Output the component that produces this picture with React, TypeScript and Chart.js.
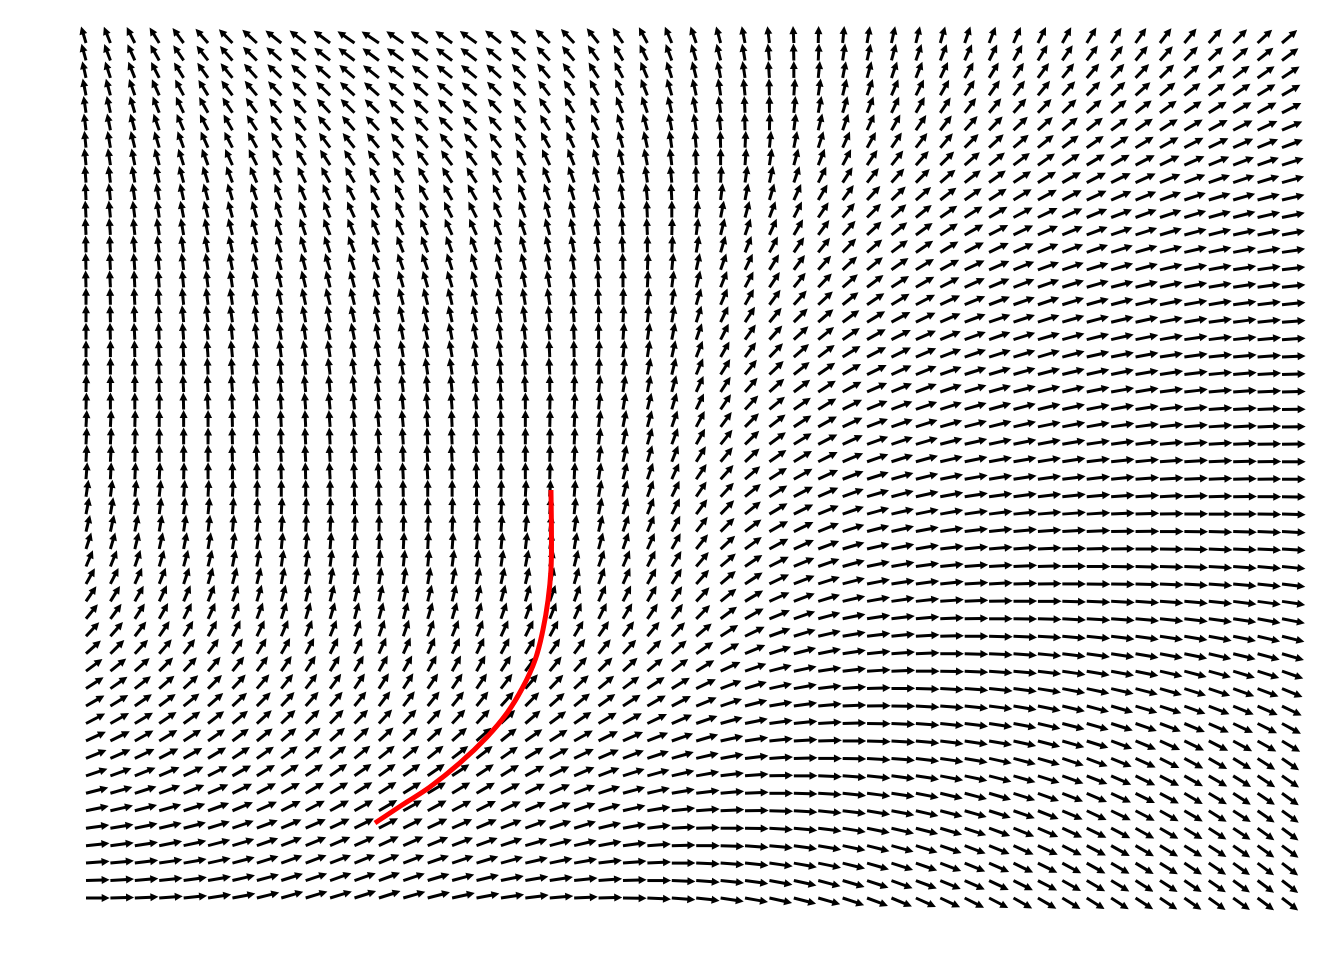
import React, { useEffect, useRef } from "react";
import { Chart, registerables } from "chart.js";

Chart.register(...registerables);

// Arrow direction (degrees, measured in data space, 0 = right, 90 = up) for every grid arrow.
// rowNN holds grid row NN counted from the bottom; each row lists columns 0..49 from left to right.
const row00 = [0,2,4,6,8,12,15,19,22,23,23,24,24,22,20,17,15,12,10,7,4,2,-1,-4,-6,-9,-12,-14,-17,-20,-22,-25,-28,-30,-32,-33,-35,-36,-38,-39,-40,-41,-42,-42,-43,-44,-45,-45,-46,-47];
const row01 = [3,5,7,9,11,14,18,21,24,25,26,26,27,25,23,21,19,16,14,12,9,6,3,0,-3,-6,-8,-11,-14,-17,-20,-22,-25,-27,-28,-30,-32,-34,-35,-36,-38,-39,-40,-41,-42,-43,-44,-45,-46,-47];
const row02 = [6,8,10,12,14,17,20,24,27,28,28,29,30,28,26,25,23,21,18,16,14,10,7,4,0,-3,-6,-8,-11,-14,-16,-19,-22,-24,-26,-28,-30,-32,-34,-35,-37,-38,-39,-40,-41,-42,-43,-45,-46,-47];
const row03 = [8,10,12,15,17,20,23,26,29,30,31,32,33,32,30,28,27,25,22,20,18,14,10,6,2,0,-3,-6,-8,-11,-14,-16,-19,-21,-24,-26,-28,-30,-32,-33,-35,-36,-38,-39,-40,-41,-42,-44,-45,-46];
const row04 = [11,13,16,18,20,23,26,28,31,32,34,35,36,35,34,32,31,29,27,25,23,18,14,10,5,2,0,-2,-5,-8,-10,-13,-16,-18,-20,-23,-25,-27,-29,-31,-33,-34,-36,-38,-39,-40,-42,-43,-45,-46];
const row05 = [16,18,20,22,24,27,30,32,35,36,37,38,39,38,37,36,35,33,30,28,26,22,18,13,9,6,4,1,-2,-5,-8,-10,-13,-15,-18,-20,-22,-24,-26,-29,-31,-33,-34,-36,-38,-39,-41,-42,-44,-45];
const row06 = [20,22,24,27,29,31,34,36,38,39,40,41,42,41,40,40,39,36,34,31,28,24,21,18,14,10,7,4,0,-2,-5,-8,-10,-12,-15,-18,-20,-22,-24,-27,-29,-31,-33,-35,-37,-39,-40,-42,-43,-45];
const row07 = [25,27,29,31,33,35,38,40,42,43,44,44,45,44,44,43,43,40,37,34,31,28,24,21,18,14,10,6,2,0,-3,-6,-8,-10,-12,-15,-17,-20,-22,-24,-27,-29,-32,-34,-36,-38,-39,-41,-42,-44];
const row08 = [30,32,34,36,38,40,42,44,46,47,47,48,48,48,48,47,47,44,40,37,34,31,28,25,22,18,14,9,5,2,0,-2,-5,-7,-10,-12,-14,-17,-20,-22,-25,-28,-30,-32,-35,-37,-39,-40,-42,-44];
const row09 = [33,35,38,40,42,44,46,48,50,51,51,52,52,52,52,51,51,48,44,41,38,35,32,29,26,22,17,12,8,5,2,0,-3,-5,-8,-10,-12,-14,-17,-20,-22,-24,-27,-30,-32,-34,-35,-37,-38,-40];
const row10 = [36,38,40,43,45,47,49,51,53,54,55,55,56,56,56,56,56,53,50,46,43,40,37,34,31,26,21,16,11,8,5,2,-1,-3,-6,-8,-10,-12,-15,-18,-20,-22,-24,-26,-28,-30,-32,-33,-35,-37];
const row11 = [39,41,44,46,48,50,52,54,56,57,58,60,61,61,60,60,60,57,54,51,48,45,42,39,36,30,25,20,14,11,8,4,1,-1,-4,-6,-8,-10,-13,-16,-18,-20,-22,-23,-25,-27,-29,-30,-32,-34];
const row12 = [42,44,47,50,52,54,56,58,60,61,62,64,65,65,64,64,64,61,58,55,52,49,46,43,40,34,28,23,17,14,10,6,3,1,-2,-4,-6,-8,-10,-13,-15,-17,-18,-20,-22,-24,-25,-27,-28,-30];
const row13 = [46,48,51,54,56,58,60,62,64,65,66,67,68,68,68,68,68,65,62,60,57,54,52,49,46,40,33,26,20,16,12,9,5,3,0,-2,-4,-6,-8,-10,-12,-14,-15,-16,-18,-20,-21,-23,-24,-26];
const row14 = [51,54,56,58,61,63,64,66,68,69,70,71,72,72,72,71,71,69,66,64,62,59,56,54,51,44,38,31,24,20,16,12,8,6,3,0,-2,-4,-6,-8,-10,-11,-12,-14,-15,-16,-18,-19,-21,-22];
const row15 = [56,58,61,64,66,68,70,71,73,74,74,75,76,76,75,74,74,72,70,69,67,64,62,59,56,49,42,34,27,23,18,14,10,8,5,2,0,-2,-4,-5,-7,-8,-10,-11,-12,-13,-15,-16,-18,-19];
const row16 = [60,62,65,68,70,72,74,75,77,78,78,79,79,79,78,78,78,76,75,74,72,70,67,64,62,54,46,38,30,26,21,16,12,10,7,4,2,0,-1,-2,-4,-5,-6,-7,-8,-9,-11,-12,-14,-15];
const row17 = [64,66,68,71,73,74,76,78,79,80,80,80,81,81,80,80,80,79,78,76,75,72,70,67,64,56,48,40,32,28,23,18,14,12,9,6,4,2,1,0,-2,-3,-4,-5,-6,-7,-8,-10,-11,-12];
const row18 = [68,70,72,74,76,78,79,80,82,82,83,84,84,84,83,82,82,81,80,79,78,75,72,68,65,57,50,42,34,29,24,20,15,12,10,8,5,4,2,1,0,-1,-2,-3,-4,-5,-6,-8,-9,-10];
const row19 = [73,74,76,78,79,80,82,83,84,84,85,86,86,86,86,85,85,84,82,81,80,76,73,70,66,58,50,43,35,30,26,21,16,14,11,8,6,5,4,2,1,0,-1,-2,-3,-4,-5,-6,-7,-8];
const row20 = [77,78,80,81,82,83,84,85,86,86,87,88,88,88,88,87,87,86,85,84,83,79,76,72,68,60,52,45,37,32,28,23,18,16,13,10,8,7,6,4,3,2,1,0,-1,-2,-3,-3,-4,-5];
const row21 = [80,81,82,83,84,85,86,86,87,88,88,88,89,89,88,88,88,87,86,85,84,80,76,73,69,61,54,46,38,34,29,24,20,18,15,12,10,9,8,6,5,4,2,1,0,-1,-2,-2,-3,-4];
const row22 = [82,83,84,85,86,86,87,88,88,88,89,90,90,90,90,89,89,88,88,87,86,82,78,74,70,62,55,48,40,35,30,26,21,18,16,14,11,10,8,7,6,5,4,3,2,1,0,0,-1,-2];
const row23 = [84,85,86,86,87,88,88,89,90,90,90,91,91,91,90,90,90,89,88,88,87,83,79,75,71,64,56,48,41,36,32,27,22,20,17,14,12,11,10,9,8,7,6,5,4,3,2,1,0,-1];
const row24 = [87,88,88,88,89,90,90,90,91,91,92,92,92,92,92,91,91,90,90,89,88,84,80,76,72,64,57,50,42,38,33,28,24,22,19,16,14,13,12,11,10,9,8,6,5,4,3,2,1,0];
const row25 = [88,88,89,90,90,90,91,92,92,92,92,92,92,92,92,92,92,91,90,89,88,84,81,78,74,66,59,52,44,40,35,30,26,24,21,18,16,15,14,13,12,10,9,8,6,5,4,2,1,0];
const row26 = [88,88,89,90,90,90,91,92,92,92,92,93,93,93,92,92,92,91,90,89,88,85,82,78,75,68,60,53,46,41,36,32,27,25,22,20,18,17,16,15,14,12,11,10,8,7,5,4,2,1];
const row27 = [88,88,89,90,90,90,91,92,92,92,93,94,94,94,93,92,92,91,90,89,88,85,82,79,76,69,62,54,47,42,38,33,28,26,24,22,20,19,18,16,15,14,12,10,9,7,6,4,3,1];
const row28 = [89,90,90,90,91,92,92,92,93,93,94,94,94,94,94,93,93,92,90,89,88,86,83,80,78,71,64,56,49,44,40,35,30,28,26,24,22,21,20,18,17,15,14,12,10,8,6,5,3,1];
const row29 = [89,90,90,91,92,92,93,94,94,94,94,95,95,95,94,94,94,93,92,90,89,86,84,82,79,72,65,58,51,46,42,37,32,30,28,25,23,22,20,19,18,16,14,13,11,9,7,6,4,2];
const row30 = [90,90,91,92,92,92,93,94,94,94,95,96,96,96,96,96,96,94,93,92,90,88,85,82,80,73,66,60,53,48,44,39,34,32,29,26,24,23,22,20,19,17,16,14,12,10,8,7,5,3];
const row31 = [90,90,91,92,92,93,94,94,95,96,96,96,97,97,97,97,97,96,94,92,91,88,86,84,81,74,68,62,55,50,46,41,36,34,31,28,26,24,23,22,20,18,16,15,13,11,9,8,6,4];
const row32 = [90,91,92,92,93,94,94,95,96,96,97,98,98,98,98,98,98,96,95,94,92,90,87,84,82,76,70,63,57,52,48,43,38,35,32,30,27,26,24,22,21,19,18,16,14,12,10,9,7,5];
const row33 = [90,91,92,93,94,95,96,96,97,98,98,99,100,100,100,99,99,98,96,94,93,90,88,86,83,77,71,65,59,54,50,45,40,37,34,31,28,26,25,24,22,20,18,17,15,13,11,10,8,6];
const row34 = [90,91,92,93,94,95,96,97,98,99,100,100,101,101,100,100,100,98,97,96,94,92,89,86,84,78,73,68,62,57,52,48,43,40,36,33,30,28,26,25,23,21,20,18,16,14,13,11,10,8];
const row35 = [91,92,92,93,94,95,96,98,99,100,100,101,102,102,102,102,102,100,98,97,95,92,90,88,85,80,74,69,64,60,55,50,46,42,39,36,32,30,28,26,24,22,20,19,17,15,14,12,11,9];
const row36 = [91,92,93,94,95,96,98,99,100,101,102,103,104,104,104,103,103,101,100,98,96,94,91,88,86,81,76,71,66,62,57,52,48,44,40,37,33,31,29,27,25,23,22,20,18,16,15,13,12,10];
const row37 = [91,92,94,95,96,98,99,100,102,103,104,105,106,106,106,105,105,103,102,100,98,96,93,90,88,83,78,74,69,64,60,55,50,46,43,40,36,34,32,30,28,26,24,22,20,18,17,15,14,12];
const row38 = [92,93,94,96,97,98,100,102,103,104,106,107,108,108,108,108,108,106,104,101,99,96,94,92,89,85,80,76,72,67,62,57,52,48,45,42,38,36,34,32,30,28,26,24,22,20,19,17,16,14];
const row39 = [92,94,95,96,98,100,101,102,104,105,106,108,109,109,110,110,110,108,105,102,100,98,95,92,90,86,82,79,75,70,64,59,54,51,48,44,41,39,36,34,32,30,28,27,25,23,21,20,18,16];
const row40 = [92,94,96,97,99,101,102,104,106,107,108,110,111,111,112,112,112,110,107,104,102,100,97,94,92,88,85,82,78,72,67,62,56,53,50,47,44,42,40,37,35,33,31,29,27,25,23,22,20,18];
const row41 = [93,95,97,99,101,103,105,107,109,110,112,113,114,114,114,115,115,112,110,107,104,102,99,96,94,91,88,84,81,76,70,65,60,57,54,50,47,45,42,40,38,36,34,32,30,28,26,25,23,21];
const row42 = [94,96,98,101,103,105,108,110,112,114,115,116,118,118,118,118,118,115,112,109,106,103,100,98,95,92,90,87,84,79,74,69,64,60,57,54,50,48,46,44,42,40,38,36,34,32,30,28,26,24];
const row43 = [94,97,100,102,105,108,110,112,115,116,118,120,121,121,122,122,122,119,116,112,109,106,102,99,96,94,91,88,86,82,77,72,68,64,61,58,54,52,50,48,46,44,42,40,38,36,34,32,30,28];
const row44 = [95,98,101,104,107,110,112,115,118,120,121,122,124,124,124,125,125,122,118,114,111,108,104,101,98,96,94,91,89,85,80,76,72,68,64,61,57,55,53,51,49,47,45,43,41,39,37,35,33,31];
const row45 = [96,99,102,106,109,112,115,118,121,122,124,126,127,127,127,127,127,124,120,117,114,110,107,104,100,98,95,92,90,86,82,78,74,71,68,64,61,59,57,55,53,51,49,47,45,43,41,39,37,35];
const row46 = [98,101,104,108,111,114,118,121,124,125,126,128,129,129,129,129,129,126,122,119,116,112,109,106,102,99,96,94,91,87,84,80,76,73,70,68,65,63,61,59,57,55,53,51,49,47,45,43,41,39];
const row47 = [99,103,106,110,114,117,120,123,126,128,129,130,132,132,132,131,131,128,125,122,119,115,111,107,103,100,98,96,93,90,86,82,79,76,74,71,68,66,64,62,60,58,56,55,53,51,49,46,44,42];
const row48 = [101,105,108,112,116,119,122,126,129,130,132,133,134,134,134,133,133,130,127,124,121,117,113,109,105,102,100,97,94,91,88,84,81,79,76,74,72,70,68,66,64,62,60,59,57,55,53,50,48,46];
const row49 = [102,106,110,114,118,122,125,128,132,133,134,136,137,136,136,135,135,132,130,127,124,120,116,111,107,104,101,98,95,92,89,86,83,81,80,78,76,74,72,70,68,66,64,63,61,59,57,54,52,50];

const angleRows = [
  row00, row01, row02, row03, row04, row05, row06, row07, row08, row09,
  row10, row11, row12, row13, row14, row15, row16, row17, row18, row19,
  row20, row21, row22, row23, row24, row25, row26, row27, row28, row29,
  row30, row31, row32, row33, row34, row35, row36, row37, row38, row39,
  row40, row41, row42, row43, row44, row45, row46, row47, row48, row49,
];

// Red trajectory, in grid units (column, row from the bottom)
const trajectoryX = [11.84, 12.95, 14.09, 15.32, 16.43, 17.25, 17.9, 18.4, 18.72, 18.93, 19.05, 19.07, 19.05];
const trajectoryY = [4.3, 5.33, 6.36, 7.74, 9.23, 10.6, 12.09, 13.64, 15.36, 17.08, 18.8, 20.69, 23.38];

const ARROW_LENGTH = 0.97; // in grid units
const HEAD_LENGTH = 8;
const HEAD_HALF_WIDTH = 4;
const SHAFT_WIDTH = 3;

const quiverPlugin = {
  id: "quiver",
  beforeDatasetsDraw(chart: any) {
    const ds = chart.data.datasets[0];
    const xs = chart.scales.x;
    const ys = chart.scales.y;
    const ctx = chart.ctx as CanvasRenderingContext2D;
    ctx.save();
    ctx.fillStyle = "#000";
    ctx.strokeStyle = "#000";
    ctx.lineWidth = SHAFT_WIDTH;
    ctx.lineCap = "butt";
    for (const p of ds.data as any[]) {
      const rad = (p.angle * Math.PI) / 180;
      const x0 = xs.getPixelForValue(p.x);
      const y0 = ys.getPixelForValue(p.y);
      const x1 = xs.getPixelForValue(p.x + ARROW_LENGTH * Math.cos(rad));
      const y1 = ys.getPixelForValue(p.y + ARROW_LENGTH * Math.sin(rad));
      const dx = x1 - x0;
      const dy = y1 - y0;
      const len = Math.hypot(dx, dy) || 1;
      const ux = dx / len;
      const uy = dy / len;
      const nx = -uy;
      const ny = ux;
      const bx = x1 - ux * HEAD_LENGTH;
      const by = y1 - uy * HEAD_LENGTH;
      ctx.beginPath();
      ctx.moveTo(x0, y0);
      ctx.lineTo(bx + ux * 1, by + uy * 1);
      ctx.stroke();
      ctx.beginPath();
      ctx.moveTo(x1, y1);
      ctx.lineTo(bx + nx * HEAD_HALF_WIDTH, by + ny * HEAD_HALF_WIDTH);
      ctx.lineTo(bx - nx * HEAD_HALF_WIDTH, by - ny * HEAD_HALF_WIDTH);
      ctx.closePath();
      ctx.fill();
    }
    ctx.restore();
  },
};

export default function App() {
  const canvasRef = useRef<HTMLCanvasElement | null>(null);

  useEffect(() => {
    if (!canvasRef.current) return;
    const arrows: { x: number; y: number; angle: number }[] = [];
    angleRows.forEach((row, j) => {
      row.forEach((angle, i) => {
        arrows.push({ x: i, y: j, angle });
      });
    });
    const trajectory = trajectoryX.map((x, k) => ({ x, y: trajectoryY[k] }));

    const chart = new Chart(canvasRef.current, {
      type: "scatter",
      data: {
        datasets: [
          {
            label: "field",
            data: arrows as any,
            pointRadius: 0,
            pointHoverRadius: 0,
            showLine: false,
          },
          {
            label: "trajectory",
            data: trajectory,
            showLine: true,
            borderColor: "#ff0000",
            borderWidth: 5,
            borderCapStyle: "butt",
            borderJoinStyle: "round",
            pointRadius: 0,
            tension: 0.4,
            fill: false,
            clip: false as any,
          },
        ],
      },
      options: {
        animation: false,
        responsive: false,
        devicePixelRatio: 1,
        events: [],
        layout: { padding: { left: 86, right: 62, top: 43, bottom: 62 } },
        plugins: { legend: { display: false }, tooltip: { enabled: false } },
        scales: {
          x: { type: "linear", min: 0, max: 49, display: false },
          y: { type: "linear", min: 0, max: 49, display: false },
        },
      },
      plugins: [quiverPlugin],
    });
    return () => chart.destroy();
  }, []);

  return (
    <div style={{ position: "fixed", left: 0, top: 0, width: 1344, height: 960, background: "#fff" }}>
      <canvas ref={canvasRef} width={1344} height={960} />
    </div>
  );
}
